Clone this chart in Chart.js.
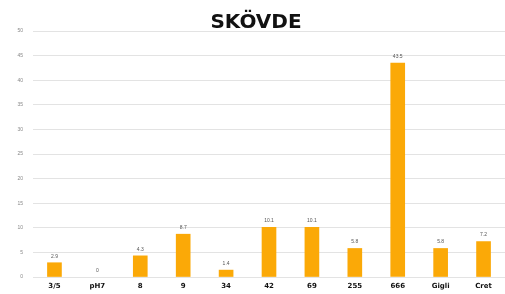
<!DOCTYPE html>
<html>
<head>
<meta charset="utf-8">
<script src="https://cdn.jsdelivr.net/npm/chart.js@4/dist/chart.umd.min.js"></script>
<style>
html,body{margin:0;padding:0;background:#fff;}
#wrap{width:505px;height:294px;}
</style>
</head>
<body>
<div id="wrap"><canvas id="c" width="505" height="294"></canvas></div>
<script>
const categories = ["3/5","pH7","8","9","34","42","69","255","666","Gigli","Cret"];
const values = [2.9, 0, 4.3, 8.7, 1.4, 10.1, 10.1, 5.8, 43.5, 5.8, 7.2];
const valueLabels = ["2.9","0","4.3","8.7","1.4","10.1","10.1","5.8","43.5","5.8","7.2"];
const yTicks = [0,5,10,15,20,25,30,35,40,45,50];
const chartTitle = "SKÖVDE";

const labelPlugin = {
  id: 'valLabels',
  afterDatasetsDraw(chart) {
    const ctx = chart.ctx;
    const meta = chart.getDatasetMeta(0);
    ctx.save();
    ctx.font = '5px Arial, "Liberation Sans", sans-serif';
    ctx.fillStyle = '#555';
    ctx.textAlign = 'center';
    ctx.textBaseline = 'bottom';
    meta.data.forEach((bar, i) => {
      ctx.fillText(valueLabels[i], bar.x, bar.y - 4);
    });
    ctx.restore();
  }
};
const titlePlugin = {
  id: 'bigTitle',
  afterDraw(chart) {
    const ctx = chart.ctx;
    ctx.save();
    ctx.font = 'bold 20px "DejaVu Sans", sans-serif';
    ctx.fillStyle = '#111';
    ctx.textAlign = 'center';
    ctx.textBaseline = 'middle';
    ctx.fillText(chartTitle, 256, 23);
    ctx.restore();
  }
};

new Chart(document.getElementById('c'), {
  type: 'bar',
  data: {
    labels: categories,
    datasets: [{
      data: values,
      backgroundColor: (c) => (c.raw === 0 ? 'rgba(0,0,0,0)' : '#FBA907'),
      borderWidth: 0,
      barThickness: 14
    }]
  },
  options: {
    responsive: false,
    animation: false,
    devicePixelRatio: 1,
    layout: { padding: { top: 31, right: 0, left: 0, bottom: 0 } },
    plugins: { legend: { display: false }, tooltip: { enabled: false }, title: { display: false } },
    scales: {
      x: {
        grid: { display: false, drawTicks: false },
        border: { display: false },
        ticks: { color: '#111', font: { family: '"DejaVu Sans", sans-serif', size: 7, weight: 'bold' }, padding: 5, maxRotation: 0 },
        afterFit(s) { s.height = 17; }
      },
      y: {
        min: 0, max: 50,
        afterBuildTicks(s) { s.ticks = yTicks.map(v => ({ value: v })); },
        grid: { color: '#e3e3e3', lineWidth: 1, drawTicks: false },
        border: { display: false },
        ticks: { color: '#888', font: { family: '"Liberation Sans", Arial, sans-serif', size: 5 }, padding: 10 },
        afterFit(s) { s.width = 33; }
      }
    }
  },
  plugins: [labelPlugin, titlePlugin]
});
</script>
</body>
</html>
